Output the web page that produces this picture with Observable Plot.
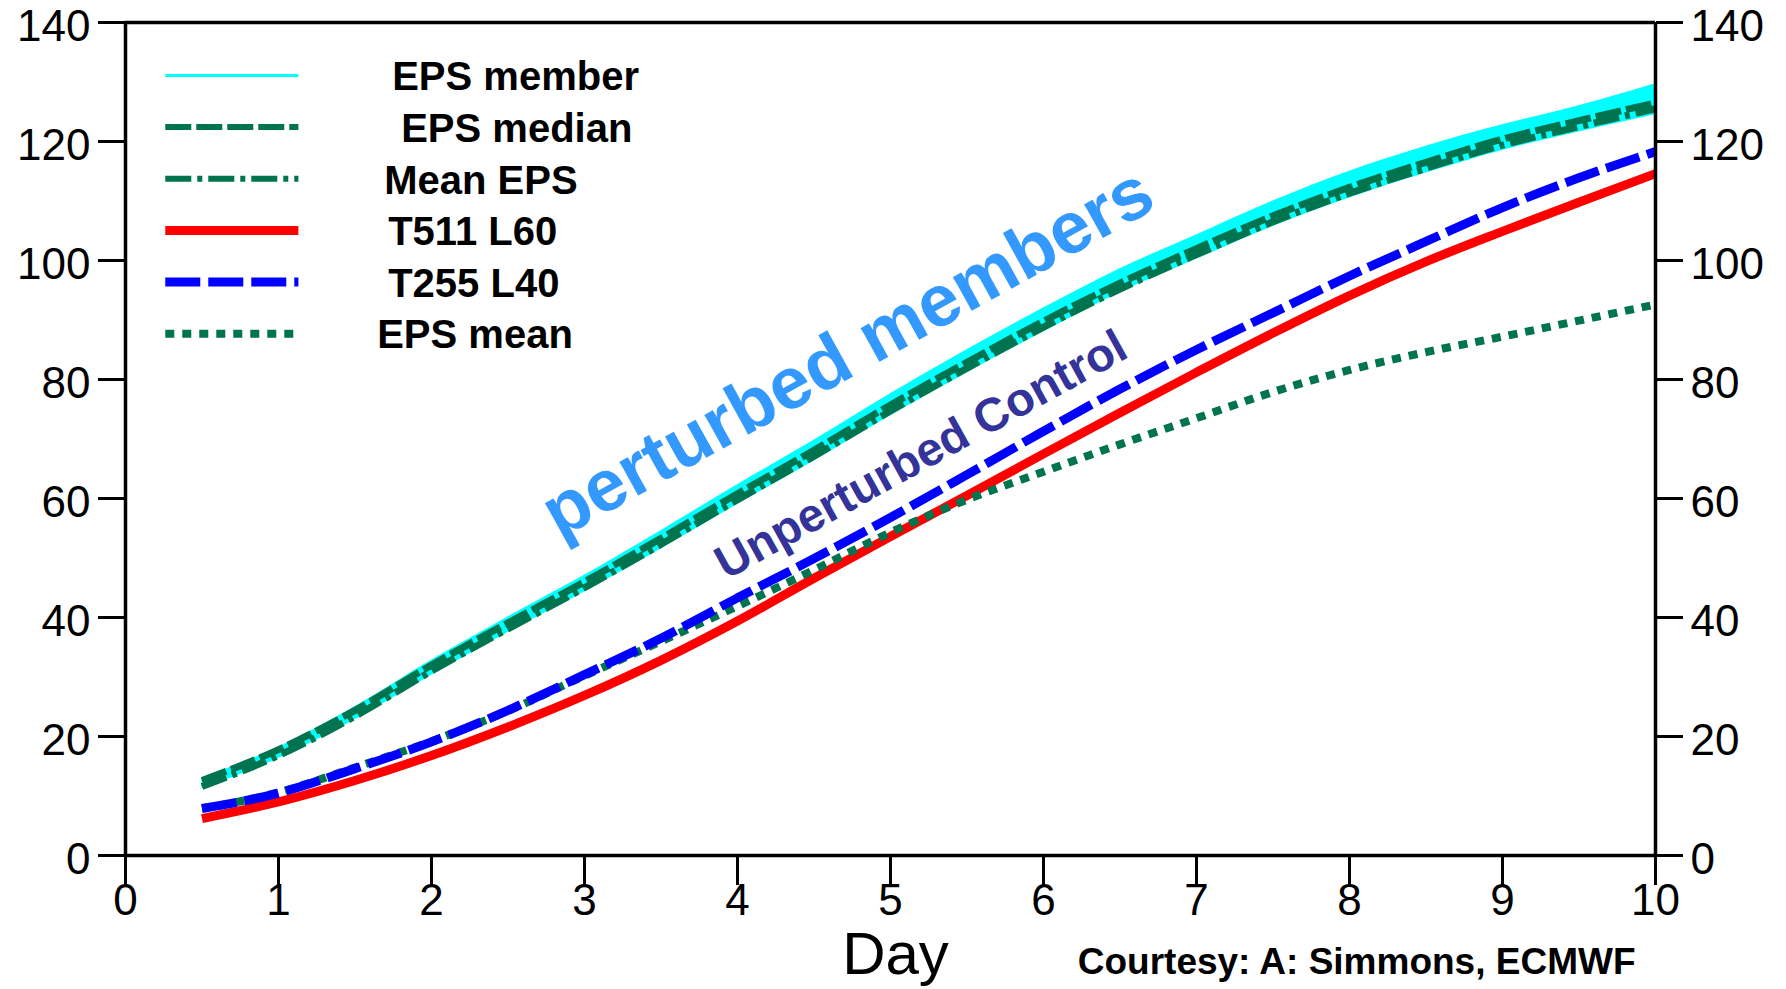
<!DOCTYPE html>
<html>
<head>
<meta charset="utf-8">
<script src="https://cdn.jsdelivr.net/npm/d3@7"></script>
<script src="https://cdn.jsdelivr.net/npm/@observablehq/plot@0.6"></script>
<style>
  html, body { margin: 0; padding: 0; background: #ffffff; }
  #chart svg { display: block; }
</style>
</head>
<body>
<div id="chart"></div>
<script>
// ---------------- DATA ----------------
const days = [0.5, 1, 1.5, 2, 2.5, 3, 3.5, 4, 4.5, 5, 5.5, 6, 6.5, 7, 7.5, 8, 8.5, 9, 9.5, 10];

const epsMemberHigh = [13.0, 18.2, 25.0, 32.8, 40.1, 47.1, 54.6, 62.3, 69.8, 77.6, 85.0, 92.0, 98.6, 104.3, 110.0, 115.0, 119.2, 122.8, 126.0, 129.7];
const epsMemberLow  = [11.2, 16.3, 22.8, 30.3, 37.5, 44.3, 51.5, 59.0, 66.3, 73.9, 81.1, 88.0, 94.6, 100.2, 105.7, 110.5, 114.7, 118.5, 121.6, 124.5];
const epsMedian     = [12.6, 17.8, 24.4, 32.0, 39.1, 46.0, 53.3, 60.8, 68.1, 75.7, 82.9, 89.8, 96.2, 102.0, 107.5, 112.3, 116.5, 120.4, 123.5, 126.5];
const meanEps       = [11.6, 16.8, 23.4, 31.0, 38.1, 45.0, 52.3, 59.8, 67.1, 74.7, 81.9, 88.8, 95.2, 101.0, 106.5, 111.3, 115.5, 119.4, 122.5, 125.5];
const t511L60       = [6.2, 9.0, 12.6, 16.8, 21.6, 26.9, 32.8, 39.4, 46.6, 53.6, 60.5, 67.5, 74.4, 81.2, 87.8, 94.1, 99.8, 104.9, 109.8, 114.6];
const t255L40       = [7.9, 10.5, 14.6, 19.1, 24.4, 30.4, 36.5, 43.3, 49.9, 56.8, 64.0, 71.3, 78.4, 85.0, 91.2, 97.4, 103.2, 108.9, 113.9, 118.3];
const epsMean       = [7.9, 10.6, 14.8, 19.2, 24.3, 30.2, 36.0, 41.9, 48.0, 54.3, 59.8, 64.5, 69.1, 73.5, 77.9, 81.6, 84.6, 87.2, 89.9, 92.6];

const xTicks = [0, 1, 2, 3, 4, 5, 6, 7, 8, 9, 10];
const yTicks = [0, 20, 40, 60, 80, 100, 120, 140];

const legendLabels = ["EPS member", "EPS median", "Mean EPS", "T511 L60", "T255 L40", "EPS mean"];
const annotationLabels = ["perturbed members", "Unperturbed Control"];
const xAxisTitle = "Day";
const creditText = "Courtesy: A: Simmons, ECMWF";

// ---------------- STYLES & LAYOUT ----------------
const GREEN = "#00734f";
const seriesStyle = {
  "EPS member": {stroke: "#00ffff", strokeWidth: 3},
  "EPS median": {stroke: GREEN, strokeWidth: 6, strokeDasharray: "26,5"},
  "Mean EPS":   {stroke: GREEN, strokeWidth: 6, strokeDasharray: "26,6,5,6"},
  "T511 L60":   {stroke: "#ff0000", strokeWidth: 9},
  "T255 L40":   {stroke: "#0000ff", strokeWidth: 9, strokeDasharray: "35,8"},
  "EPS mean":   {stroke: GREEN, strokeWidth: 8, strokeDasharray: "9,8"}
};
const capStyle = {strokeLinecap: "butt", strokeLinejoin: "miter"};

const rows = days.map((d, i) => ({
  day: d,
  hi: epsMemberHigh[i], lo: epsMemberLow[i],
  median: epsMedian[i], meanEps: meanEps[i],
  t511: t511L60[i], t255: t255L40[i], epsMean: epsMean[i]
}));

// legend layout (in data units of the chart)
const legendTop = 131.1, legendStep = 8.68, legendX1 = 0.26, legendX2 = 1.13, legendTextX = 1.645;
const legendTextDx = [15, 24, 7, 11, 11, 0];
const legendLines = legendLabels.flatMap((lab, i) => [
  {lab, x: legendX1, y: legendTop - i * legendStep},
  {lab, x: legendX2, y: legendTop - i * legendStep}
]);
const legendTexts = legendLabels.map((lab, i) => ({lab, x: legendTextX, y: legendTop - i * legendStep, dx: legendTextDx[i]}));

const lineOpts = (key, lab, extra = {}) => ({x: "day", y: key, curve: "monotone-x", ...seriesStyle[lab], ...capStyle, ...extra});

const FONT = "'Liberation Sans', Arial, Helvetica, sans-serif";
const intFmt = d3.format("d");

const chart = Plot.plot({
  width: 1786,
  height: 989,
  marginLeft: 125,
  marginRight: 131,
  marginTop: 22,
  marginBottom: 134,
  style: {fontFamily: FONT, background: "#ffffff", color: "#000000"},
  x: {domain: [0, 10], label: null},
  y: {domain: [0, 140], label: null},
  marks: [
    // EPS member band
    Plot.areaY(rows, {x: "day", y1: "lo", y2: "hi", fill: "#00ffff", curve: "monotone-x"}),
    Plot.line(rows, lineOpts("median", "EPS median", {strokeWidth: 7})),
    Plot.line(rows, lineOpts("meanEps", "Mean EPS", {strokeWidth: 7})),
    Plot.line(rows, lineOpts("t511", "T511 L60")),
    Plot.line(rows, lineOpts("epsMean", "EPS mean")),
    Plot.line(rows, lineOpts("t255", "T255 L40")),

    // legend
    ...legendLabels.map(lab => Plot.line(legendLines.filter(d => d.lab === lab), {x: "x", y: "y", ...seriesStyle[lab], ...capStyle})),
    ...legendTexts.map(t => Plot.text([t], {x: "x", y: "y", text: "lab", dx: t.dx, dy: 2, textAnchor: "start", lineAnchor: "middle", fontSize: 40, fontWeight: "bold", fill: "#000"})),

    // annotations
    Plot.text([annotationLabels[0]], {x: () => 4.72, y: () => 84.5, text: d => d, rotate: -29, fontSize: 73, fontWeight: "bold", fill: "#3399ff", textAnchor: "middle", lineAnchor: "middle"}),
    Plot.text([annotationLabels[1]], {x: () => 5.2, y: () => 67.3, text: d => d, rotate: -29, fontSize: 47, fontWeight: "bold", fill: "#333399", textAnchor: "middle", lineAnchor: "middle"}),

    // frame lines
    Plot.ruleX([0, 10], {stroke: "#000", strokeWidth: 3.5}),
    Plot.ruleY([0, 140], {stroke: "#000", strokeWidth: 3.5}),

    // axes: ticks
    Plot.axisY(yTicks, {anchor: "left", tickSize: 27, strokeWidth: 3, fill: "none", label: null}),
    Plot.axisY(yTicks, {anchor: "right", tickSize: 27, strokeWidth: 3, fill: "none", label: null}),
    Plot.axisX(xTicks, {anchor: "bottom", tickSize: 30, strokeWidth: 3, fill: "none", label: null}),
    // axes: labels
    Plot.axisY(yTicks, {anchor: "left", tickSize: 0, tickPadding: 35, dy: 4, fontSize: 44, tickFormat: intFmt, label: null}),
    Plot.axisY(yTicks, {anchor: "right", tickSize: 0, tickPadding: 35, dy: 4, fontSize: 44, tickFormat: intFmt, label: null}),
    Plot.axisX(xTicks, {anchor: "bottom", tickSize: 0, tickPadding: 28, fontSize: 44, tickFormat: intFmt, label: null}),

    // axis title & credit
    Plot.text([xAxisTitle], {x: () => 5, frameAnchor: "bottom", text: d => d, dx: 5, dy: 118, lineAnchor: "bottom", textAnchor: "middle", fontSize: 60, fill: "#000"}),
    Plot.text([creditText], {x: () => 10, frameAnchor: "bottom", text: d => d, dx: -20, dy: 118, lineAnchor: "bottom", textAnchor: "end", fontSize: 37, fontWeight: "bold", fill: "#000"})
  ]
});

document.getElementById("chart").appendChild(chart);
</script>
</body>
</html>
